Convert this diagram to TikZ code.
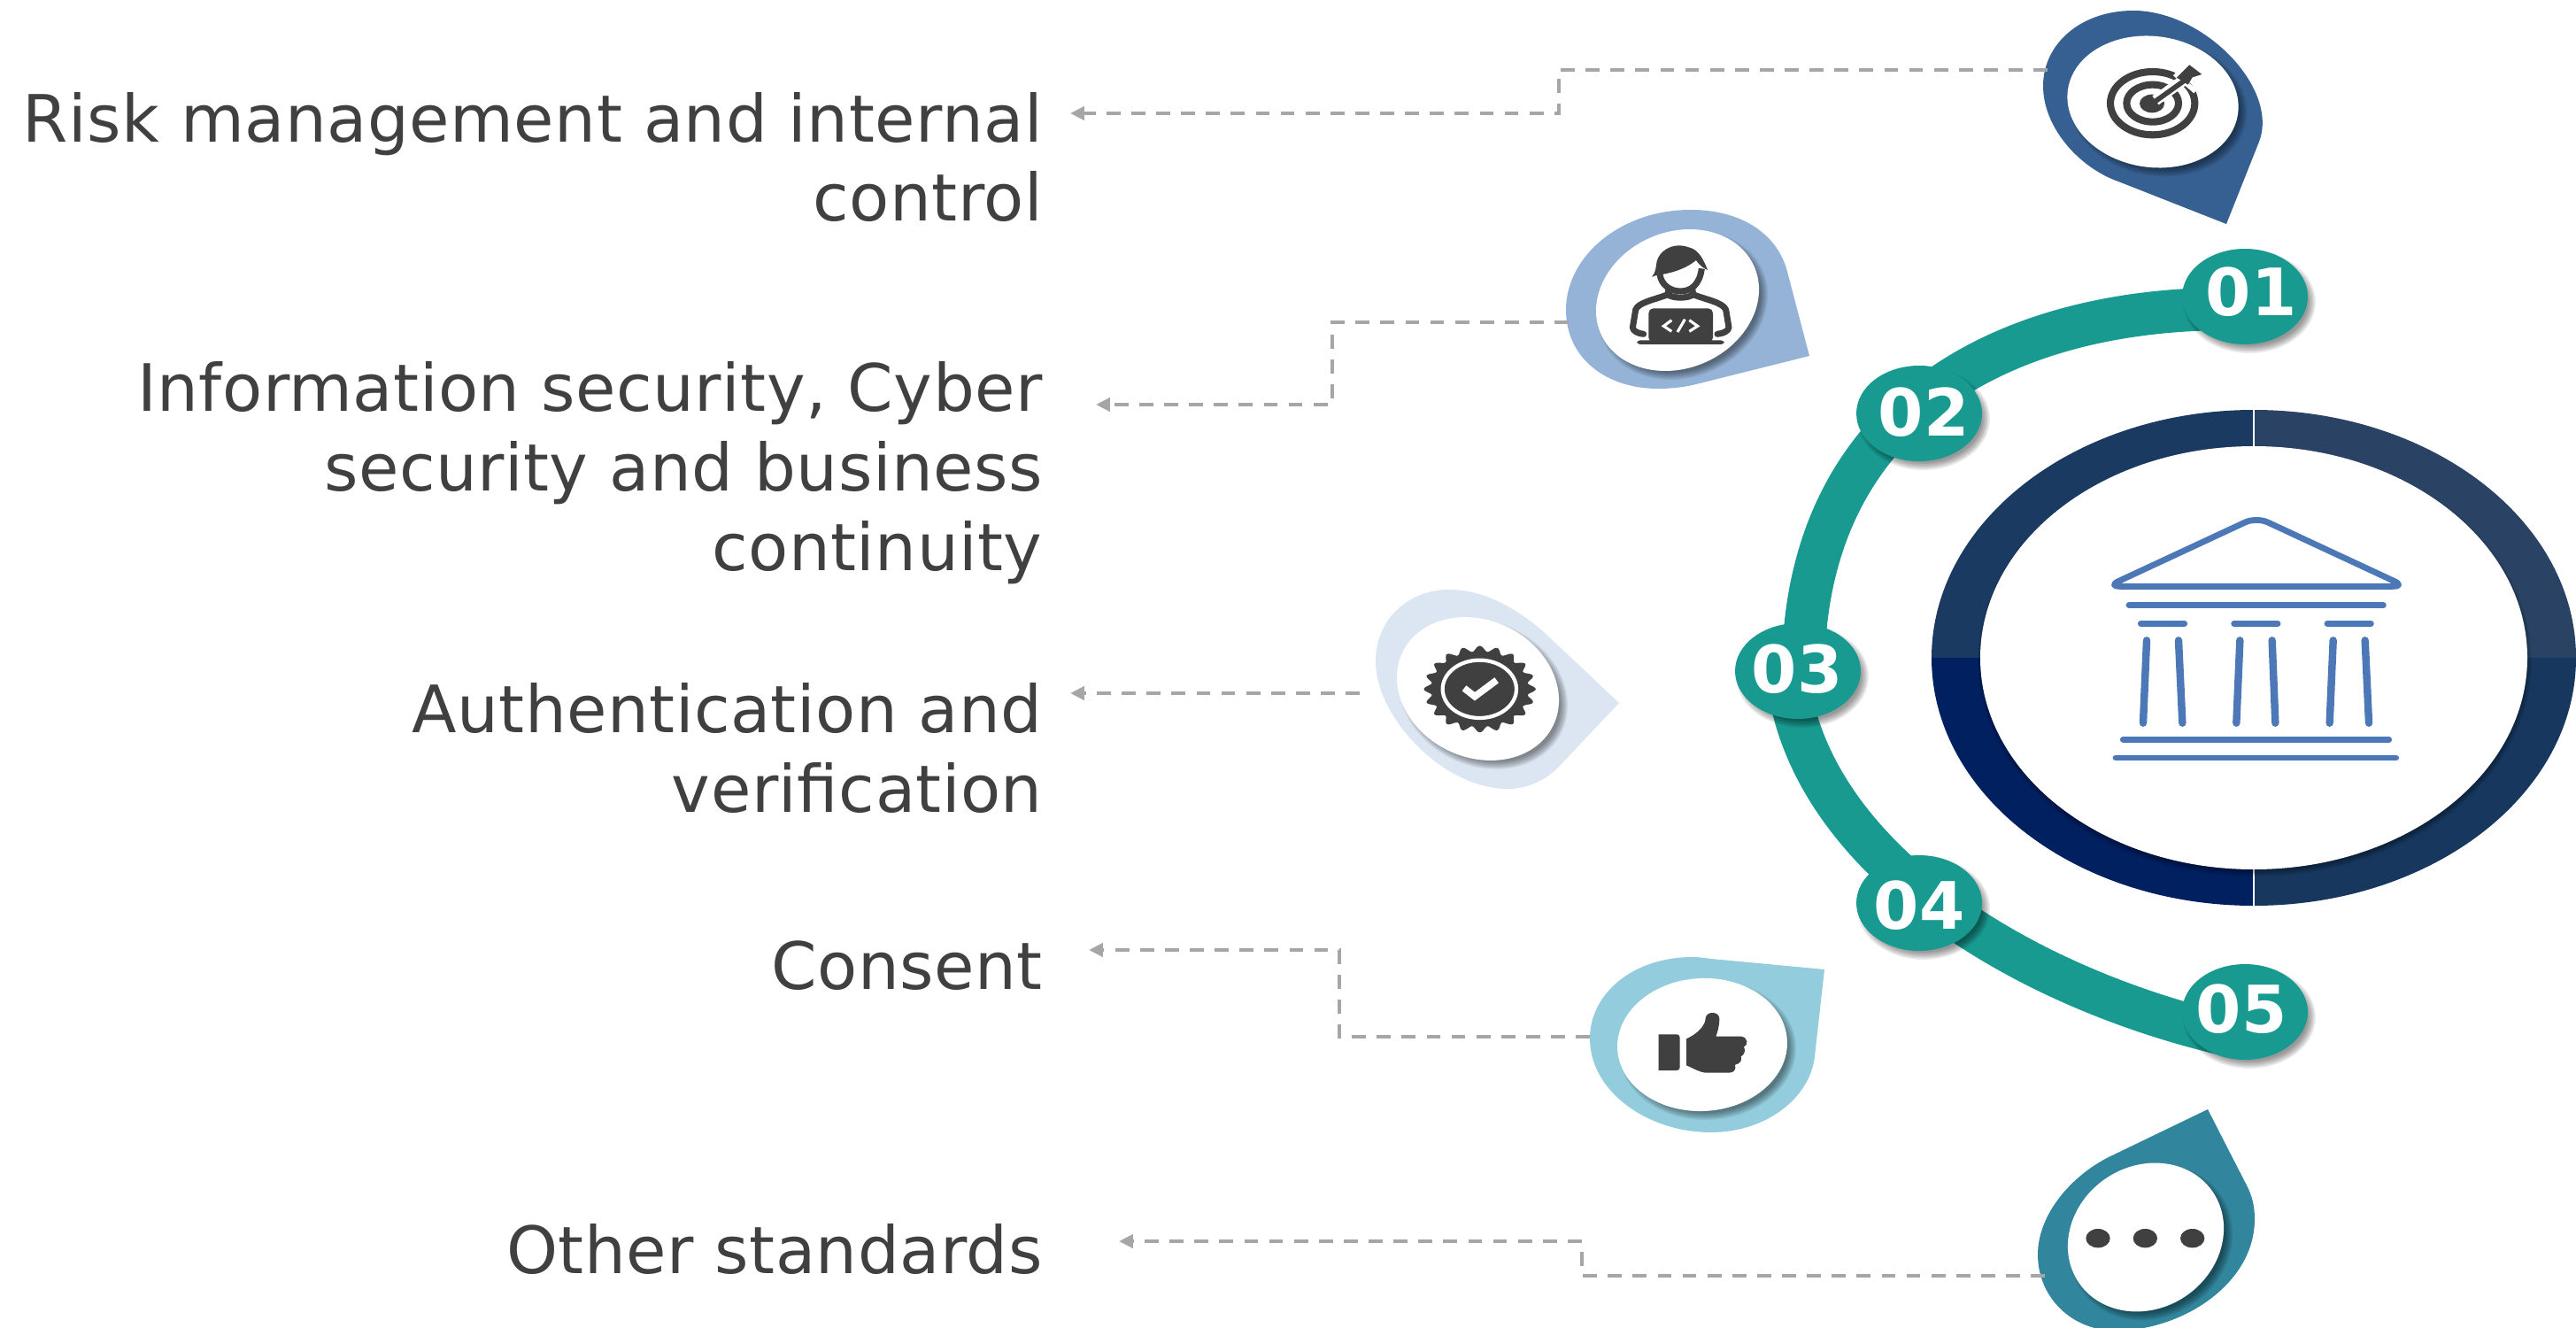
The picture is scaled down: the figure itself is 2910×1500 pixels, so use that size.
\documentclass[tikz,border=0pt]{standalone}
\usepackage{fontspec}
\setmainfont{DejaVu Sans}
\newfontfamily\lblfont[LetterSpace=0.7]{DejaVu Sans}
\usetikzlibrary{arrows.meta,shapes.geometric}
\definecolor{teal1}{HTML}{189A90}
\definecolor{txt}{HTML}{404040}
\definecolor{dashc}{HTML}{A6A6A6}
\definecolor{bldg}{HTML}{4C78B7}
\definecolor{ringa}{HTML}{1A3A61}
\definecolor{ringb}{HTML}{2A4365}
\definecolor{ringc}{HTML}{002060}
\definecolor{ringd}{HTML}{17375E}
\definecolor{pina}{HTML}{376092}
\definecolor{pinb}{HTML}{95B3D7}
\definecolor{pinc}{HTML}{DCE6F2}
\definecolor{pind}{HTML}{93CDDD}
\definecolor{pine}{HTML}{31859C}
% cx cy rx ry angle offset
\newcommand{\softshadow}[6]{%
  \begin{scope}[shift={(#1,#2)}]\begin{scope}[shift={(#6)},rotate=#5]
  \foreach \g in {0,1,...,6}{
    \fill[black,opacity=0.07] (0,0) ellipse [x radius={#3+4-\g*1.4},y radius={#4+4-\g*1.4}];
  }
  \end{scope}\end{scope}}
\newcommand{\whiteell}[5]{%
  \softshadow{#1}{#2}{#3}{#4}{#5}{6,6}
  \begin{scope}[shift={(#1,#2)},rotate=#5]
  \fill[white] (0,0) ellipse [x radius=#3,y radius=#4];
  \end{scope}}
\tikzset{
  lbl/.style={font=\lblfont\fontsize{42pt}{51.2pt}\selectfont,text=txt,align=right,inner sep=0pt,anchor=base east},
  conn/.style={draw=dashc,line width=2.3pt,dash pattern=on 9pt off 7pt,-{Triangle[length=9pt,width=8.5pt,fill=dashc]}},
  num/.style={ellipse,fill=teal1,minimum width=2.84cm,minimum height=2.16cm,inner sep=0pt},
  numt/.style={text=white,font=\fontsize{42pt}{42pt}\selectfont\bfseries,inner sep=0pt},
  arcline/.style={draw=teal1,line width=27.5pt},
  bl/.style={draw=bldg,line width=3.9pt,line cap=round},
  bc/.style={draw=bldg,line width=4.8pt,line cap=round},
}
\begin{document}
\begin{tikzpicture}[x=0.02cm,y=-0.02cm]
\useasboundingbox (0,0) rectangle (2910,1500);
\clip (0,0) rectangle (2910,1500);

% central ring
\fill[ringa] (2546,743) -- (2182,743) arc[start angle=180,end angle=90,x radius=364,y radius=-280] -- cycle;
\fill[ringb] (2546,743) -- (2546,463) arc[start angle=90,end angle=0,x radius=364,y radius=-280] -- cycle;
\fill[ringc] (2546,743) -- (2182,743) arc[start angle=180,end angle=270,x radius=364,y radius=-280] -- cycle;
\fill[ringd] (2546,743) -- (2546,1023) arc[start angle=270,end angle=360,x radius=364,y radius=-280] -- cycle;
\draw[white,line width=0.7pt] (2546,463) -- (2546,1023);
\softshadow{2546}{743}{309}{239}{0}{1,4}
\fill[white] (2546,743) ellipse [x radius=309,y radius=239];

% building
\begin{scope}[shift={(2350,560)},scale=0.33333]
\draw[bl,line join=round,rounded corners=8pt] (92,307) -- (597,72) -- (1102,307) -- cycle;
\draw[bl] (165,371) -- (1027,371);
\draw[bl] (205,433) -- (353,433);
\draw[bl] (521,433) -- (669,433);
\draw[bl] (837,433) -- (985,433);
\draw[bc] (225,490) -- (213,770);
\draw[bc] (333,490) -- (346,770);
\draw[bc] (541,490) -- (529,770);
\draw[bc] (650,490) -- (661,770);
\draw[bc] (857,490) -- (845,770);
\draw[bc] (965,490) -- (978,770);
\draw[bl] (145,826) -- (1046,826);
\draw[bl] (120,888) -- (1070,888);
\end{scope}

% teal arcs
\coordinate (u1) at (2530,349);
\coordinate (u2) at (2037,760);
\coordinate (l1) at (2530,1172);
\coordinate (l2) at (2020,770);
\draw[arcline] (u1) .. controls (2265,345) and (2037,465) .. (u2);
\draw[arcline] (l2) .. controls (2047,972) and (2290,1120) .. (l1);

% numbered discs
\foreach \cx/\cy/\nm/\tx/\ty in {2536/335/01/7/-5,2168/467/02/5/-1,2031/758/03/-1/-2,2168/1020/04/0/3,2536/1143/05/-4/-3}{
  \softshadow{\cx}{\cy}{71}{54}{0}{5,6}
  \node[num] (n\nm) at (\cx,\cy) {};
  \node[numt] (t\nm) at ([shift={(\tx,\ty)}]n\nm.center) {\nm};
}

% pin 1
\fill[pina] (2515,253) -- (2552,160) .. controls (2575,100) and (2490,12) .. (2410,12) .. controls (2350,12) and (2308,50) .. (2308,97) .. controls (2308,145) and (2350,190) .. (2393,205) -- cycle;
\whiteell{2432}{115}{97}{74}{-8}
\begin{scope}[shift={(2250,0)},scale=0.33333]
\draw[txt,line width=4.6pt] (545,350) ellipse [x radius=143,y radius=107];
\draw[txt,line width=4.6pt] (545,350) ellipse [x radius=88,y radius=63];
\fill[txt] (543,351) ellipse [x radius=42,y radius=31];
\draw[white,line width=7pt] (555,340) -- (680,250);
\draw[white,line width=3pt] (620,250) -- (690,310);
\draw[txt,line width=3.2pt] (545,350) -- (660,268);
\fill[txt] (670,220) -- (712,252) -- (680,262) -- (665,287) -- (627,263) -- (640,250) -- cycle;
\end{scope}

% pin 2
\fill[pinb] (2044,402) -- (2018,303) .. controls (2005,262) and (1965,237) .. (1910,237) .. controls (1830,237) and (1769,290) .. (1769,350) .. controls (1769,405) and (1815,439) .. (1873,439) .. controls (1890,439) and (1905,437) .. (1920,433) -- cycle;
\whiteell{1895}{339}{94.6}{76.9}{23.5}
\begin{scope}[shift={(1740,220)},scale=0.33333]
\draw[txt,line width=4pt] (405,270) .. controls (410,305) and (440,327) .. (475,327) .. controls (510,327) and (540,305) .. (547,250);
\fill[txt] (378,278) .. controls (392,265) and (392,240) .. (395,225) .. controls (405,190) and (440,172) .. (470,172) .. controls (490,172) and (500,178) .. (510,180) .. controls (540,190) and (555,225) .. (567,255) .. controls (555,250) and (540,240) .. (528,222) .. controls (500,245) and (460,262) .. (412,270) .. controls (408,272) and (400,270) .. (378,278) -- cycle;
\draw[txt,line width=4pt,line cap=round] (435,318) -- (432,338) .. controls (450,352) and (500,352) .. (518,338) -- (515,318);
\draw[txt,line width=4pt,line cap=round,line join=round] (350,472) .. controls (330,470) and (315,462) .. (313,450) -- (323,390) .. controls (330,365) and (390,355) .. (432,338);
\draw[txt,line width=4pt,line cap=round,line join=round] (600,472) .. controls (620,470) and (637,462) .. (639,450) -- (629,390) .. controls (620,365) and (560,355) .. (518,338);
\fill[txt,rounded corners=3pt] (367,385) rectangle (585,500);
\fill[txt,rounded corners=2pt] (328,493) rectangle (623,507);
\draw[white,line width=1.8pt] (445,425) -- (418,445) -- (445,463);
\draw[white,line width=1.8pt] (490,422) -- (465,465);
\draw[white,line width=1.8pt] (505,425) -- (533,445) -- (505,463);
\end{scope}

% pin 3
\fill[pinc] (1829,794) -- (1743,713) .. controls (1710,685) and (1675,666) .. (1637,666) .. controls (1590,666) and (1554,700) .. (1554,747) .. controls (1554,810) and (1630,891) .. (1703,891) .. controls (1725,891) and (1745,882) .. (1760,867) -- cycle;
\whiteell{1669.5}{778}{94.6}{77.3}{-26}
\begin{scope}[shift={(1530,650)},scale=0.33333]
\fill[txt] plot[domain=0:360,samples=241,smooth] ({425+177*(1+0.07*cos(20*\x))*cos(\x)},{385+137*(1+0.07*cos(20*\x))*sin(\x)}) -- cycle;
\draw[white,line width=2.4pt] (424,385) ellipse [x radius=125,y radius=98];
\draw[white,line width=4.4pt] (372,382) -- (408,410) -- (482,355);
\end{scope}

% pin 4
\fill[pind] (2061,1095) -- (1933,1083) .. controls (1925,1082) and (1920,1081) .. (1912,1081) .. controls (1845,1081) and (1796,1122) .. (1796,1173) .. controls (1796,1232) and (1860,1279) .. (1933,1279) .. controls (1995,1279) and (2045,1240) .. (2050,1193) -- cycle;
\whiteell{1923}{1180}{96}{75}{3}
\begin{scope}[shift={(1770,1060)},scale=0.33333]
\fill[txt] (311,325) -- (370,325) .. controls (380,325) and (383,330) .. (383,340) -- (383,432) .. controls (383,442) and (380,447) .. (370,447) -- (311,447) -- cycle;
\fill[txt] (405,340) .. controls (450,320) and (470,290) .. (470,270) .. controls (472,245) and (520,245) .. (517,275) .. controls (517,295) and (510,320) .. (505,332) -- (590,332) .. controls (615,335) and (615,360) .. (600,368) .. controls (608,380) and (600,395) .. (590,400) .. controls (595,415) and (585,425) .. (570,428) .. controls (575,445) and (565,455) .. (550,455) -- (470,455) .. controls (445,452) and (430,440) .. (405,430) -- cycle;
\end{scope}

% pin 5
\fill[pine] (2494,1253) -- (2537,1337) .. controls (2544,1350) and (2547,1362) .. (2547,1377) .. controls (2547,1450) and (2465,1503) .. (2390,1503) .. controls (2340,1503) and (2302,1465) .. (2302,1417) .. controls (2302,1375) and (2335,1332) .. (2380,1308) -- cycle;
\whiteell{2424}{1397.5}{91.4}{80.3}{34}
\begin{scope}[shift={(2280,1240)},scale=0.33333]
\foreach \dx in {270,430,590}{\fill[txt] (\dx,476) ellipse [x radius=41,y radius=32];}
\end{scope}

% labels
\node[lbl] (la) at (1178,250) {Risk management and internal\\control};
\node[lbl] (lb) at (1178,644) {Information security, Cyber\\security and business\\continuity};
\node[lbl] (lc) at (1178,917) {Authentication and\\verification};
\node[lbl] (ld) at (1178,1117) {Consent};
\node[lbl] (le) at (1178,1438) {Other standards};

% connectors
\coordinate (sa) at (2313,79);  \coordinate (ea) at (1209,128);
\coordinate (sb) at (1772,364); \coordinate (eb) at (1238,457);
\coordinate (sc) at (1536,783); \coordinate (ec) at (1209,783);
\coordinate (sd) at (1796,1171);\coordinate (ed) at (1230,1073);
\coordinate (se) at (2310,1441);\coordinate (ee) at (1264,1402);
\draw[conn] (sa) -- (1761,79) -- (1761,128) -- (ea);
\draw[conn] (sb) -- (1505,364) -- (1505,457) -- (eb);
\draw[conn] (sc) -- (ec);
\draw[conn] (sd) -- (1513,1171) -- (1513,1073) -- (ed);
\draw[conn] (se) -- (1787,1441) -- (1787,1402) -- (ee);
\end{tikzpicture}
\end{document}
